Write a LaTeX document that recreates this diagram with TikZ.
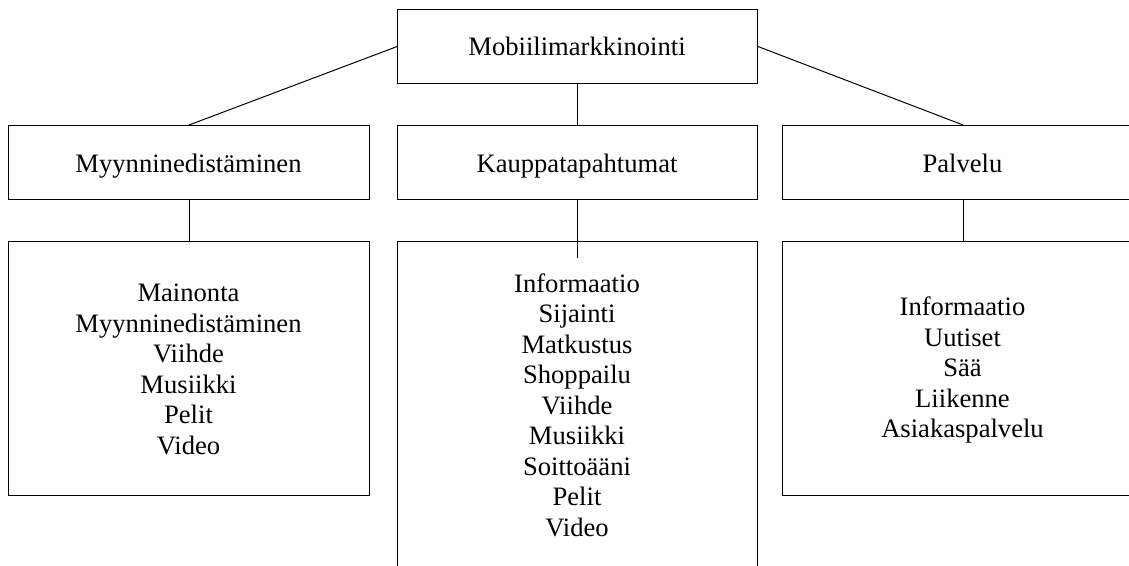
\documentclass[tikz,border=0pt]{standalone}
\usepackage{fontspec}
\setmainfont{Liberation Serif}
\begin{document}
\begin{tikzpicture}[x=1pt,y=-1pt,
  box/.style={draw=black, line width=1.1pt, rectangle, inner sep=0pt,
              anchor=north west, minimum width=360pt},
  lbl/.style={font=\fontsize{26.6}{30.5}\selectfont, align=center,
              anchor=base, inner sep=0pt},
  link/.style={draw=black, line width=1pt}]
\useasboundingbox (0,0) rectangle (1129,565);
\clip (0,0) rectangle (1129,565);

% top level
\node[box, minimum height=74pt] (top) at (397,9) {};

% second level
\node[box, minimum width=361pt, minimum height=74pt] (myy) at (8,125) {};
\node[box, minimum height=74pt] (kau) at (397,125) {};
\node[box, minimum width=361pt, minimum height=74pt] (pal) at (782,125) {};

% third level
\node[box, minimum width=361pt, minimum height=254pt] (myyl) at (8,241) {};
\node[box, minimum height=340pt] (kaul) at (397,241) {};
\node[box, minimum width=361pt, minimum height=254pt] (pall) at (782,241) {};

% labels (multi-line labels are anchored at the baseline of their last line)
\node[lbl] (ttop) at (577,55) {Mobiilimarkkinointi};
\node[lbl] (tmyy) at (188.5,172.5) {Myynninedistäminen};
\node[lbl] (tkau) at (577,172.3) {Kauppatapahtumat};
\node[lbl] (tpal) at (962.5,172) {Palvelu};

\node[lbl] (tmyyl) at (188.5,454.3) {Mainonta\\Myynninedistäminen\\Viihde\\Musiikki\\Pelit\\Video};
\node[lbl] (tkaul) at (577,536.3) {Informaatio\\Sijainti\\Matkustus\\Shoppailu\\Viihde\\Musiikki\\Soittoääni\\Pelit\\Video};
\node[lbl] (tpall) at (962.5,437.7) {Informaatio\\Uutiset\\Sää\\Liikenne\\Asiakaspalvelu};

% connectors
\draw[link] (top.west) -- (myy.north);
\draw[link] (top.south) -- (kau.north);
\draw[link] (top.east) -- (pal.north);
\draw[link] (myy.south) -- (myyl.north);
\draw[link] (kau.south) -- ([yshift=-17pt]kaul.north);
\draw[link] (pal.south) -- (pall.north);
\end{tikzpicture}
\end{document}
